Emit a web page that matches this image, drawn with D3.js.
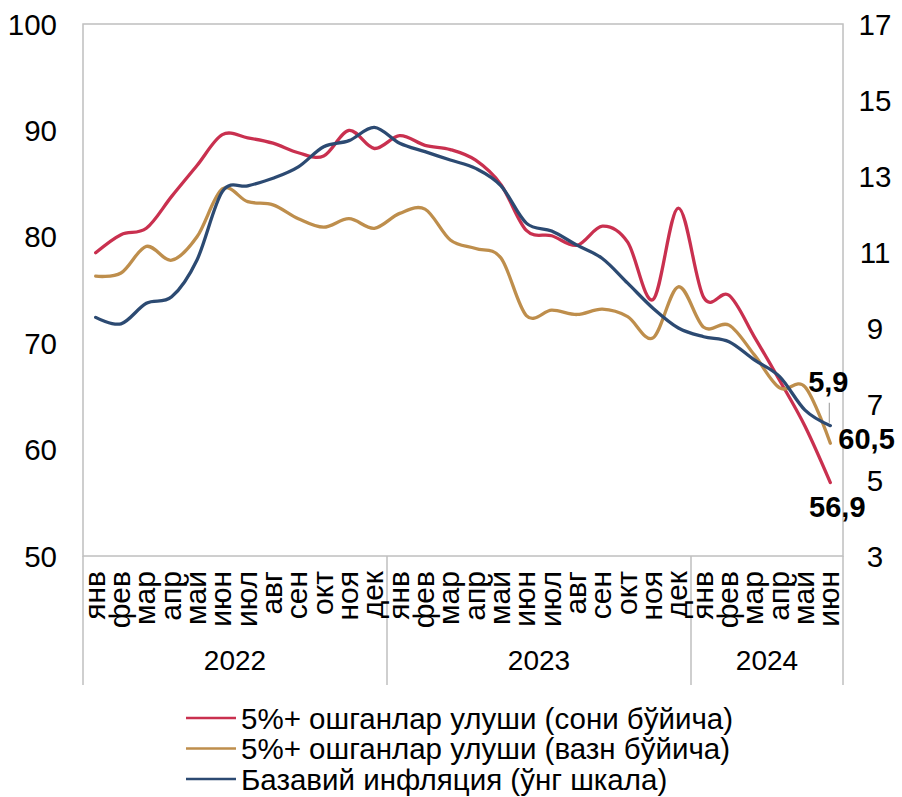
<!DOCTYPE html>
<html><head><meta charset="utf-8">
<script src="https://cdn.jsdelivr.net/npm/d3@7/dist/d3.min.js"></script>
<style>body{margin:0;background:#fff}svg{display:block;font-family:"Liberation Sans",Arial,sans-serif}</style>
</head><body><svg id="c" width="902" height="797"></svg>
<script>
const years = ["2022","2023","2024"];
const yearCounts = [12,12,6];
const months = ["янв","фев","мар","апр","май","июн","июл","авг","сен","окт","ноя","дек"];
const categories = yearCounts.flatMap((n,yi)=>months.slice(0,n).map(m=>years[yi]+"-"+m));
const shareCount = [78.5,80.2,80.8,83.8,86.7,89.6,89.3,88.8,87.9,87.6,90.0,88.3,89.5,88.6,88.2,87.2,84.9,80.6,80.1,79.2,81.0,79.5,74.1,82.7,74.3,74.5,70.6,66.5,62.2,56.9];
const shareWeight = [76.3,76.6,79.1,77.8,80.0,84.5,83.3,83.0,81.7,80.9,81.7,80.8,82.2,82.6,79.7,78.9,78.0,72.6,73.1,72.7,73.2,72.5,70.5,75.3,71.5,71.7,68.9,65.8,65.9,60.6];
const coreInfl = [9.28,9.11,9.65,9.82,10.79,12.59,12.74,12.94,13.24,13.77,13.93,14.28,13.86,13.64,13.42,13.20,12.74,11.76,11.55,11.18,10.83,10.18,9.52,9.0,8.77,8.64,8.16,7.72,6.84,6.43];
const leftTicks = [50,60,70,80,90,100];
const rightTicks = [3,5,7,9,11,13,15,17];
const seriesNames = ["5%+ ошганлар улуши (сони бўйича)","5%+ ошганлар улуши (вазн бўйича)","Базавий инфляция (ўнг шкала)"];
const lastLabels = ["56,9","60,5","5,9"];
const colors = ["#C9304F","#BE8E4C","#2C4A72"];

const svg = d3.select("#c");
const L=83,R=843,T=24,B=556,AB=685;
const x = d3.scaleBand().domain(categories).range([L,R]);
const yL = d3.scaleLinear().domain([50,100]).range([B,T]);
const yR = d3.scaleLinear().domain([3,17]).range([B,T]);
const cx = c => x(c)+x.bandwidth()/2;
const grid="#BFBFBF";

svg.append("rect").attr("x",L).attr("y",T).attr("width",R-L).attr("height",B-T)
  .attr("fill","none").attr("stroke",grid).attr("stroke-width",1.5);
const g = svg.append("g").attr("stroke",grid).attr("stroke-width",1.5);
let acc=0; const bounds=[L];
yearCounts.forEach(n=>{acc+=n; bounds.push(x(categories[acc-1])+x.bandwidth());});
bounds.forEach(b=>g.append("line").attr("x1",b).attr("x2",b).attr("y1",B).attr("y2",AB));

svg.append("g").selectAll("text").data(leftTicks).join("text")
  .attr("x",57).attr("y",d=>yL(d)).attr("dy","0.36em").attr("text-anchor","end")
  .attr("font-size",29.5).attr("fill","#000").text(d=>d);
svg.append("g").selectAll("text").data(rightTicks).join("text")
  .attr("x",875).attr("y",d=>yR(d)).attr("dy","0.36em").attr("text-anchor","middle")
  .attr("font-size",29.5).attr("fill","#000").text(d=>d);

svg.append("g").selectAll("text").data(categories).join("text")
  .attr("transform",d=>`translate(${cx(d)+9},571) rotate(-90)`)
  .attr("text-anchor","end").attr("font-size",30).attr("fill","#000")
  .text(d=>d.split("-")[1]);
years.forEach((yv,i)=>{
  svg.append("text").attr("x",(bounds[i]+bounds[i+1])/2).attr("y",660).attr("dy","0.36em")
   .attr("text-anchor","middle").attr("font-size",28).text(yv);
});

const line = (ys,scale)=>d3.line().x((d,i)=>cx(categories[i])).y(d=>scale(d)).curve(d3.curveCardinal.tension(0))(ys);
const series=[[shareCount,yL],[shareWeight,yL],[coreInfl,yR]];
series.forEach(([v,s],i)=>{
  svg.append("path").attr("d",line(v,s)).attr("fill","none").attr("stroke",colors[i])
    .attr("stroke-width",3.3).attr("stroke-linejoin","round").attr("stroke-linecap","round");
});

const last=categories.length-1, lx=cx(categories[last]);
svg.append("text").attr("x",lx+7).attr("y",yL(shareCount[last])+34).attr("text-anchor","middle")
  .attr("font-size",29).attr("font-weight","bold").text(lastLabels[0]);
svg.append("text").attr("x",lx+8).attr("y",yL(shareWeight[last])-5).attr("dy","0.36em").attr("text-anchor","start")
  .attr("font-size",29).attr("font-weight","bold").text(lastLabels[1]);
svg.append("line").attr("x1",lx-1).attr("x2",lx-1).attr("y1",yR(coreInfl[last])-23).attr("y2",yR(coreInfl[last])-3)
  .attr("stroke","#A6A6A6").attr("stroke-width",1.2);
svg.append("text").attr("x",lx-2).attr("y",yR(coreInfl[last])-34).attr("text-anchor","middle")
  .attr("font-size",29).attr("font-weight","bold").text(lastLabels[2]);

const lg = svg.append("g");
seriesNames.forEach((n,i)=>{
  const yy=718+i*30.5;
  lg.append("line").attr("x1",186).attr("x2",236).attr("y1",yy).attr("y2",yy).attr("stroke",colors[i]).attr("stroke-width",2.5);
  lg.append("text").attr("x",241).attr("y",yy).attr("dy","0.36em").attr("font-size",29.5).text(n);
});
</script></body></html>
